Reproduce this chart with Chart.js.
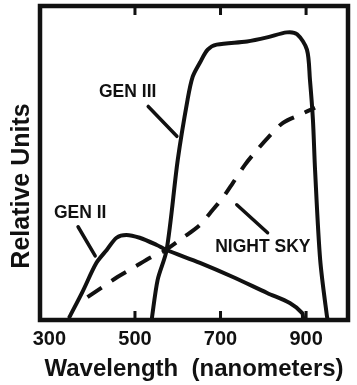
<!DOCTYPE html>
<html>
<head>
<meta charset="utf-8">
<script src="https://cdn.jsdelivr.net/npm/chart.js@4/dist/chart.umd.min.js"></script>
<style>
  body { margin: 0; background: #fff; }
</style>
</head>
<body>
<canvas id="spectrumChart" width="357" height="385"></canvas>
<script>
// wavelength (nm) / relative response
const genIIIWave  = [539, 553, 574, 600, 623, 635, 652, 670, 691, 762, 809, 855, 879, 902, 909, 916, 921, 933, 949, 951];
const genIIIValue = [0, 12.8, 22.3, 51, 70.2, 77.5, 82, 86.1, 87.7, 88.7, 90, 91.6, 91, 86.1, 76.6, 63.8, 47.8, 19.1, 1, 0];

const genIIWave  = [347, 377, 410, 434, 457, 480, 511, 551, 574, 652, 729, 809, 862, 891, 893];
const genIIValue = [1, 8.9, 18.2, 22.3, 26.2, 27.1, 26.2, 23.9, 22.3, 18.2, 13.7, 8.6, 5.4, 2.2, 0.6];

const skyWave  = [389, 424, 459, 499, 539, 565, 612, 652, 682, 705, 729, 757, 780, 811, 846, 886, 921];
const skyValue = [7.3, 10.5, 13.7, 16.9, 20.1, 21.7, 26.2, 30.3, 35.1, 38.9, 43.7, 49.4, 53.3, 58.1, 62.8, 65.4, 67.6];

const waveTicks  = [300, 500, 700, 900];
const innerTicks = [500, 700, 900];

// curve labels and their leader lines (data units)
const labelText  = ['GEN III', 'GEN II', 'NIGHT SKY'];
const labelWave  = [483, 372, 799];
const labelValue = [72.5, 34, 23.3];
const leaderFrom = [[531, 68], [367, 29.7], [738, 36.7]];
const leaderTo   = [[598, 58.5], [407, 20.4], [810, 27.8]];

const INK = '#111';
const FONT = "'Liberation Sans', Arial, sans-serif";

function toPoints(xs, ys) {
  return xs.map((x, i) => ({ x: x, y: ys[i] }));
}

const framePlugin = {
  id: 'frame',
  afterDatasetsDraw(chart) {
    const { ctx, chartArea: a, scales } = chart;
    const x = scales.x, y = scales.y;
    ctx.save();
    ctx.strokeStyle = INK;
    ctx.lineCap = 'butt';

    // tick marks pointing into the plot
    ctx.lineWidth = 3;
    innerTicks.forEach(v => {
      const px = x.getPixelForValue(v);
      ctx.beginPath();
      ctx.moveTo(px, a.top);
      ctx.lineTo(px, a.top + 9);
      ctx.moveTo(px, a.bottom);
      ctx.lineTo(px, a.bottom - 9);
      ctx.stroke();
    });

    ctx.lineWidth = 4.5;
    ctx.strokeRect(a.left, a.top, a.right - a.left, a.bottom - a.top);

    // leader lines
    ctx.lineWidth = 3.5;
    ctx.lineCap = 'round';
    leaderFrom.forEach((p, i) => {
      ctx.beginPath();
      ctx.moveTo(x.getPixelForValue(p[0]), y.getPixelForValue(p[1]));
      ctx.lineTo(x.getPixelForValue(leaderTo[i][0]), y.getPixelForValue(leaderTo[i][1]));
      ctx.stroke();
    });

    // curve labels
    ctx.fillStyle = INK;
    ctx.font = 'bold 17.5px ' + FONT;
    ctx.textAlign = 'center';
    ctx.textBaseline = 'middle';
    labelText.forEach((t, i) => {
      ctx.fillText(t, x.getPixelForValue(labelWave[i]), y.getPixelForValue(labelValue[i]));
    });

    // y axis title
    ctx.font = 'bold 25px ' + FONT;
    ctx.translate(22, 186);
    ctx.rotate(-Math.PI / 2);
    ctx.fillText('Relative Units', 0, 0);
    ctx.restore();
  }
};

const lineStyle = {
  borderColor: INK,
  borderWidth: 4,
  pointRadius: 0,
  tension: 0.3,
  borderCapStyle: 'round',
  borderJoinStyle: 'round',
  fill: false
};

new Chart(document.getElementById('spectrumChart').getContext('2d'), {
  type: 'line',
  data: {
    datasets: [
      Object.assign({ label: 'GEN III', data: toPoints(genIIIWave, genIIIValue) }, lineStyle),
      Object.assign({ label: 'GEN II', data: toPoints(genIIWave, genIIValue) }, lineStyle),
      Object.assign({ label: 'NIGHT SKY', data: toPoints(skyWave, skyValue), borderDash: [17, 12] }, lineStyle, { borderCapStyle: 'butt' })
    ]
  },
  options: {
    responsive: false,
    animation: false,
    layout: { padding: { left: 40, top: 6, right: 9, bottom: 0 } },
    plugins: {
      legend: { display: false },
      tooltip: { enabled: false }
    },
    scales: {
      x: {
        type: 'linear',
        min: 278,
        max: 998,
        grid: { display: false, drawTicks: false },
        border: { display: false },
        afterBuildTicks: scale => {
          scale.ticks = waveTicks.map(v => ({ value: v }));
        },
        afterFit: scale => { scale.height = 65; },
        ticks: {
          color: INK,
          padding: 7,
          maxRotation: 0,
          autoSkip: false,
          font: { family: FONT, size: 20, weight: 'bold' }
        },
        title: {
          display: true,
          text: 'Wavelength  (nanometers)',
          color: INK,
          padding: { top: 0, bottom: 1 },
          font: { family: FONT, size: 24, weight: 'bold' }
        }
      },
      y: {
        display: false,
        min: 0,
        max: 100
      }
    }
  },
  plugins: [framePlugin]
});
</script>
</body>
</html>
